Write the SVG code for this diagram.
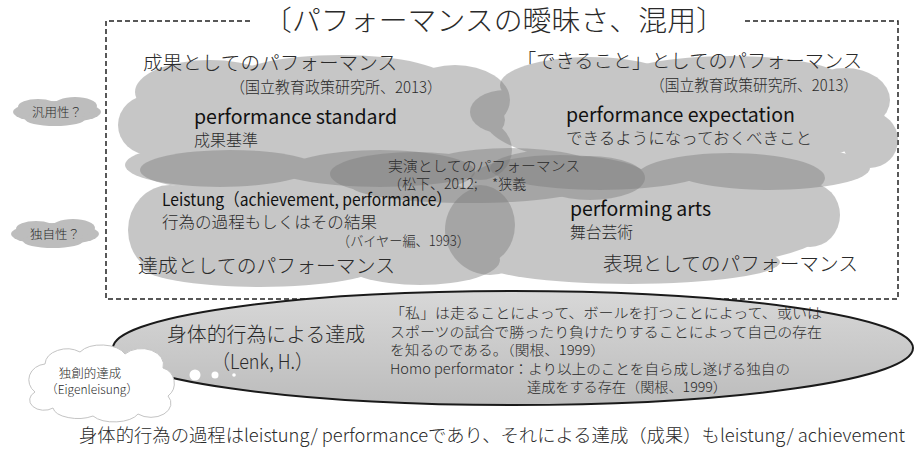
<svg xmlns="http://www.w3.org/2000/svg" width="914" height="452" viewBox="0 0 914 452">
<style>
.cloud{opacity:0.42}
.cloud ellipse{fill:#7a7a7a}
.side ellipse{fill:#bdbdbd}
.jp{font-family:"Noto Sans CJK JP","Noto Sans",sans-serif;font-weight:300;fill:#2a2a2a}
.en{font-family:"Noto Sans CJK JP","Open Sans",sans-serif;font-weight:400;fill:#111}
.frame{fill:none;stroke:#222;stroke-width:1.5;stroke-dasharray:5 3}
</style>
<defs>
<linearGradient id="ellg" x1="0" y1="0" x2="0" y2="1">
<stop offset="0" stop-color="#d8d8d8"/>
<stop offset="1" stop-color="#bcbcbc"/>
</linearGradient>
</defs>
<rect width="914" height="452" fill="#fff"/>

<g id="connectors">
<path class="frame" d="M250 21 H106 V299 H898 V21 H745"/>
</g>

<g id="title">
<text class="jp" x="263" y="31" font-size="28" textLength="462" lengthAdjust="spacingAndGlyphs">〔パフォーマンスの曖昧さ、混用〕</text>
</g>

<g id="cloud-standard" class="cloud">
<ellipse cx="315" cy="120" rx="190" ry="50"/>
<ellipse cx="210" cy="92" rx="75" ry="32"/>
<ellipse cx="340" cy="82" rx="110" ry="27"/>
<ellipse cx="455" cy="100" rx="55" ry="35"/>
<ellipse cx="150" cy="125" rx="32" ry="30"/>
<ellipse cx="220" cy="165" rx="95" ry="22"/>
<ellipse cx="380" cy="165" rx="110" ry="22"/>
<ellipse cx="480" cy="150" rx="32" ry="30"/>
</g>
<g id="cloud-expectation" class="cloud">
<ellipse cx="685" cy="120" rx="200" ry="52"/>
<ellipse cx="590" cy="85" rx="90" ry="28"/>
<ellipse cx="730" cy="78" rx="110" ry="22"/>
<ellipse cx="845" cy="100" rx="45" ry="32"/>
<ellipse cx="870" cy="140" rx="28" ry="28"/>
<ellipse cx="505" cy="112" rx="35" ry="22"/>
<ellipse cx="600" cy="168" rx="110" ry="22"/>
<ellipse cx="770" cy="168" rx="100" ry="22"/>
</g>
<g id="cloud-leistung" class="cloud">
<ellipse cx="320" cy="220" rx="190" ry="50"/>
<ellipse cx="230" cy="170" rx="90" ry="20"/>
<ellipse cx="380" cy="172" rx="95" ry="22"/>
<ellipse cx="170" cy="230" rx="42" ry="45"/>
<ellipse cx="260" cy="265" rx="120" ry="22"/>
<ellipse cx="420" cy="260" rx="80" ry="25"/>
<ellipse cx="480" cy="225" rx="35" ry="40"/>
</g>
<g id="cloud-arts" class="cloud">
<ellipse cx="645" cy="222" rx="190" ry="48"/>
<ellipse cx="560" cy="180" rx="90" ry="25"/>
<ellipse cx="730" cy="178" rx="95" ry="25"/>
<ellipse cx="810" cy="215" rx="30" ry="32"/>
<ellipse cx="490" cy="230" rx="45" ry="45"/>
<ellipse cx="630" cy="262" rx="150" ry="22"/>
</g>
<g id="cloud-jitsuen" class="cloud">
<ellipse cx="415" cy="174" rx="85" ry="22"/>
<ellipse cx="510" cy="170" rx="90" ry="22"/>
<ellipse cx="590" cy="178" rx="55" ry="22"/>
<ellipse cx="470" cy="185" rx="120" ry="18"/>
</g>

<g id="labels-top">
<text class="jp" x="143" y="70" font-size="19.5" textLength="254" lengthAdjust="spacingAndGlyphs">成果としてのパフォーマンス</text>
<text class="jp" x="230" y="93" font-size="15.5" textLength="212" lengthAdjust="spacingAndGlyphs">（国立教育政策研究所、2013）</text>
<text class="en" x="194" y="124" font-size="20" textLength="203" lengthAdjust="spacingAndGlyphs">performance standard</text>
<text class="jp" x="194" y="146" font-size="16" textLength="64" lengthAdjust="spacingAndGlyphs">成果基準</text>
<text class="jp" x="517" y="68" font-size="19.5" textLength="345" lengthAdjust="spacingAndGlyphs">「できること」としてのパフォーマンス</text>
<text class="jp" x="650" y="91" font-size="15.5" textLength="208" lengthAdjust="spacingAndGlyphs">（国立教育政策研究所、2013）</text>
<text class="en" x="566" y="122" font-size="20" textLength="229" lengthAdjust="spacingAndGlyphs">performance expectation</text>
<text class="jp" x="566" y="144" font-size="16" textLength="246" lengthAdjust="spacingAndGlyphs">できるようになっておくべきこと</text>
</g>

<g id="labels-middle">
<text class="jp" x="388" y="171" font-size="14" textLength="192" lengthAdjust="spacingAndGlyphs">実演としてのパフォーマンス</text>
<text class="jp" x="388" y="189" font-size="14">（松下、2012;<tspan x="492">*狭義</tspan></text>
<text class="en" x="162" y="206" font-size="17" textLength="290" lengthAdjust="spacingAndGlyphs">Leistung（achievement, performance）</text>
<text class="jp" x="162" y="228" font-size="16" textLength="215" lengthAdjust="spacingAndGlyphs">行為の過程もしくはその結果</text>
<text class="jp" x="337" y="246" font-size="14" textLength="133" lengthAdjust="spacingAndGlyphs">（バイヤー編、1993）</text>
<text class="jp" x="138" y="273" font-size="19.5" textLength="257" lengthAdjust="spacingAndGlyphs">達成としてのパフォーマンス</text>
<text class="en" x="570" y="216" font-size="20" textLength="141" lengthAdjust="spacingAndGlyphs">performing arts</text>
<text class="jp" x="570" y="238" font-size="16" textLength="63" lengthAdjust="spacingAndGlyphs">舞台芸術</text>
<text class="jp" x="603" y="271" font-size="19.5" textLength="255" lengthAdjust="spacingAndGlyphs">表現としてのパフォーマンス</text>
</g>

<g id="side-generality" class="side">
<ellipse cx="57" cy="112" rx="44" ry="11"/>
<ellipse cx="38" cy="107" rx="20" ry="8"/>
<ellipse cx="75" cy="106" rx="22" ry="9"/>
<ellipse cx="55" cy="119" rx="30" ry="7"/>
<text class="jp" x="57" y="117" font-size="12.5" text-anchor="middle">汎用性？</text>
</g>
<g id="side-uniqueness" class="side">
<ellipse cx="55" cy="234" rx="44" ry="11"/>
<ellipse cx="36" cy="229" rx="20" ry="8"/>
<ellipse cx="73" cy="228" rx="22" ry="9"/>
<ellipse cx="53" cy="241" rx="30" ry="7"/>
<text class="jp" x="55" y="239" font-size="12.5" text-anchor="middle">独自性？</text>
</g>

<g id="lenk">
<ellipse cx="513" cy="348" rx="400" ry="57" fill="url(#ellg)" stroke="#1a1a1a" stroke-width="2"/>
<text class="jp" x="167" y="342" font-size="20" textLength="198" lengthAdjust="spacingAndGlyphs">身体的行為による達成</text>
<text class="jp" x="212" y="369" font-size="20" textLength="101" lengthAdjust="spacingAndGlyphs">（Lenk, H.）</text>
<text class="jp" x="390" y="318" font-size="13.5" textLength="432" lengthAdjust="spacingAndGlyphs">「私」は走ることによって、ボールを打つことによって、或いは</text>
<text class="jp" x="390" y="337" font-size="13.5" textLength="432" lengthAdjust="spacingAndGlyphs">スポーツの試合で勝ったり負けたりすることによって自己の存在</text>
<text class="jp" x="390" y="355" font-size="13.5" textLength="215" lengthAdjust="spacingAndGlyphs">を知るのである。（関根、1999）</text>
<text class="jp" x="390" y="374" font-size="13.5" textLength="400" lengthAdjust="spacingAndGlyphs">Homo performator：より以上のことを自ら成し遂げる独自の</text>
<text class="jp" x="527" y="392" font-size="13.5" textLength="200" lengthAdjust="spacingAndGlyphs">達成をする存在（関根、1999）</text>
<circle cx="195" cy="375" r="5.5" fill="#fff"/>
<circle cx="215" cy="375" r="3.5" fill="#fff"/>
<circle cx="234" cy="375" r="1.8" fill="#fff"/>
</g>

<g id="eigenleistung">
<path d="M35 392 a18 16 0 0 1 10 -28 a22 16 0 0 1 35 -12 a25 14 0 0 1 45 2 a22 16 0 0 1 38 14 a16 16 0 0 1 5 28 a20 14 0 0 1 -30 18 a25 12 0 0 1 -45 2 a25 12 0 0 1 -40 -8 a14 10 0 0 1 -18 -16 Z" fill="#fff" stroke="#c4c4c4" stroke-width="1"/>
<text class="jp" x="90" y="378" font-size="12.5" text-anchor="middle">独創的達成</text>
<text class="jp" x="92" y="394" font-size="12" text-anchor="middle">（Eigenleisung）</text>
</g>

<g id="summary">
<text class="jp" x="79" y="442" font-size="18" textLength="826" lengthAdjust="spacingAndGlyphs">身体的行為の過程はleistung/ performanceであり、それによる達成（成果）もleistung/ achievement</text>
</g>
</svg>
